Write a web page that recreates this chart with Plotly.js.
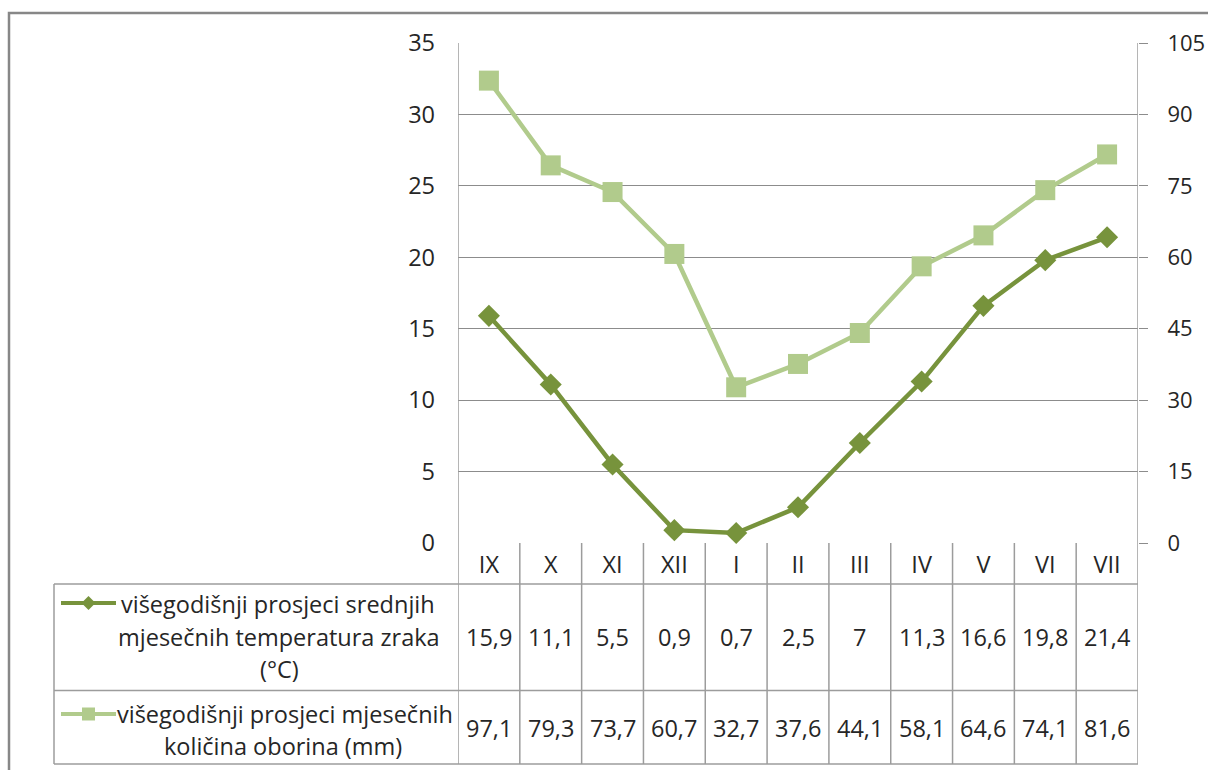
<!DOCTYPE html>
<html>
<head>
<meta charset="utf-8">
<script src="https://cdn.plot.ly/plotly-3.0.1.min.js"></script>
<style>html,body{margin:0;padding:0;background:#fff;}#chart{width:1208px;height:770px;}</style>
</head>
<body>
<div id="chart"></div>
<script>
// ---- data ----
const months = ['IX', 'X', 'XI', 'XII', 'I', 'II', 'III', 'IV', 'V', 'VI', 'VII'];
const temperature = [15.9, 11.1, 5.5, 0.9, 0.7, 2.5, 7, 11.3, 16.6, 19.8, 21.4];
const precipitation = [97.1, 79.3, 73.7, 60.7, 32.7, 37.6, 44.1, 58.1, 64.6, 74.1, 81.6];
const tempLabelLines = ['višegodišnji prosjeci srednjih', 'mjesečnih temperatura zraka', '(°C)'];
const precLabelLines = ['višegodišnji prosjeci mjesečnih', 'količina oborina (mm)'];
const leftTicks = [0, 5, 10, 15, 20, 25, 30, 35];
const rightTicks = [0, 15, 30, 45, 60, 75, 90, 105];

// ---- style ----
const FONT = 'Open Sans, sans-serif';
const TXT = '#262626';
const darkGreen = '#77933C';
const lightGreen = '#B1CB8C';
const gridColor = '#8c8c8c';
const tableColor = '#9c9c9c';
const FS = 23.5;

// plot area in pixels
const L = 458, R = 1138, T = 43, B = 543;
const W = 1208, H = 770;
const px = x => (x - L) / (R - L);
const py = y => (B - y) / (B - T);

const traces = [
  {
    x: months, y: precipitation, yaxis: 'y2', type: 'scatter', mode: 'lines+markers',
    name: precLabelLines.join(' '),
    line: {color: lightGreen, width: 4.5},
    marker: {symbol: 'square', size: 20, color: lightGreen},
    cliponaxis: false, hoverinfo: 'skip'
  },
  {
    x: months, y: temperature, yaxis: 'y', type: 'scatter', mode: 'lines+markers',
    name: tempLabelLines.join(' '),
    line: {color: darkGreen, width: 4.5},
    marker: {symbol: 'diamond', size: 17, color: darkGreen},
    cliponaxis: false, hoverinfo: 'skip'
  }
];

const shapes = [];
const annotations = [];
const hline = (x0, x1, y, color) => shapes.push({type: 'line', xref: 'paper', yref: 'paper', x0: px(x0), x1: px(x1), y0: py(y), y1: py(y), line: {color: color || tableColor, width: 1.5}});
const vline = (x, y0, y1, color) => shapes.push({type: 'line', xref: 'paper', yref: 'paper', x0: px(x), x1: px(x), y0: py(y0), y1: py(y1), line: {color: color || tableColor, width: 1.5}});

// outer chart border
shapes.push({type: 'rect', xref: 'paper', yref: 'paper', x0: px(9), x1: px(1240), y0: py(13), y1: py(800), line: {color: '#878787', width: 2.5}});

// data table
const rowTop = 584, rowMid = 690.5, rowBot = 764;
hline(54, R, rowTop);
hline(54, R, rowMid);
hline(54, R, rowBot);
vline(54, rowTop, rowBot);
for (let i = 0; i <= months.length; i++) {
  shapes.push({type: 'line', xref: 'x', yref: 'paper', x0: i - 0.5, x1: i - 0.5, y0: py(i === 0 || i === months.length ? T : B), y1: py(rowBot), line: {color: tableColor, width: 1.5}});
}

const fmt = v => String(v).replace('.', ',');
temperature.forEach((v, i) => annotations.push({xref: 'x', yref: 'paper', x: i, y: py(637), text: fmt(v), showarrow: false, font: {family: FONT, size: FS, color: TXT}, xanchor: 'center', yanchor: 'middle'}));
precipitation.forEach((v, i) => annotations.push({xref: 'x', yref: 'paper', x: i, y: py(728), text: fmt(v), showarrow: false, font: {family: FONT, size: FS, color: TXT}, xanchor: 'center', yanchor: 'middle'}));

// legend keys in table
const tempY = [604, 637, 669];
const precY = [714, 746];
tempLabelLines.forEach((t, k) => annotations.push({xref: 'paper', yref: 'paper', x: px(k === 0 ? 278 : 279), y: py(tempY[k]), text: t, showarrow: false, font: {family: FONT, size: FS, color: TXT}, xanchor: 'center', yanchor: 'middle'}));
precLabelLines.forEach((t, k) => annotations.push({xref: 'paper', yref: 'paper', x: px(k === 0 ? 285 : 283), y: py(precY[k]), text: t, showarrow: false, font: {family: FONT, size: FS, color: TXT}, xanchor: 'center', yanchor: 'middle'}));

// key icons
shapes.push({type: 'line', xref: 'paper', yref: 'paper', x0: px(61), x1: px(116), y0: py(603), y1: py(603), line: {color: darkGreen, width: 4}});
shapes.push({type: 'path', xref: 'paper', yref: 'paper', xsizemode: 'pixel', ysizemode: 'pixel', xanchor: px(88.5), yanchor: py(603), path: 'M0,7 L7,0 L0,-7 L-7,0 Z', fillcolor: darkGreen, line: {width: 0}});
shapes.push({type: 'line', xref: 'paper', yref: 'paper', x0: px(61), x1: px(116), y0: py(714), y1: py(714), line: {color: lightGreen, width: 4}});
shapes.push({type: 'path', xref: 'paper', yref: 'paper', xsizemode: 'pixel', ysizemode: 'pixel', xanchor: px(88.5), yanchor: py(714), path: 'M-6.5,-6.5 L6.5,-6.5 L6.5,6.5 L-6.5,6.5 Z', fillcolor: lightGreen, line: {width: 0}});

const layout = {
  width: W, height: H,
  margin: {l: L, r: W - R, t: T, b: H - B, pad: 0},
  paper_bgcolor: '#ffffff', plot_bgcolor: '#ffffff',
  showlegend: false,
  font: {family: FONT, color: TXT},
  xaxis: {
    type: 'category', range: [-0.5, months.length - 0.5],
    showgrid: false, zeroline: false, showline: false, ticks: '',
    tickfont: {family: FONT, size: FS, color: TXT},
    ticklabelstandoff: 5, fixedrange: true
  },
  yaxis: {
    range: [0, 35], tickvals: leftTicks, ticktext: leftTicks.map(String),
    showgrid: true, gridcolor: gridColor, gridwidth: 1, zeroline: false,
    showline: false, ticks: '',
    tickfont: {family: FONT, size: FS, color: TXT},
    ticklabelstandoff: 22, fixedrange: true
  },
  yaxis2: {
    range: [0, 105], tickvals: rightTicks, ticktext: rightTicks.map(String),
    overlaying: 'y', side: 'right', anchor: 'x',
    showgrid: false, zeroline: false, showline: false,
    ticks: 'outside', ticklen: 9, tickwidth: 1, tickcolor: gridColor,
    tickfont: {family: FONT, size: 22, color: TXT},
    ticklabelstandoff: 15, fixedrange: true
  },
  shapes: shapes,
  annotations: annotations
};

Plotly.newPlot('chart', traces, layout, {displayModeBar: false, staticPlot: true});
</script>
</body>
</html>
